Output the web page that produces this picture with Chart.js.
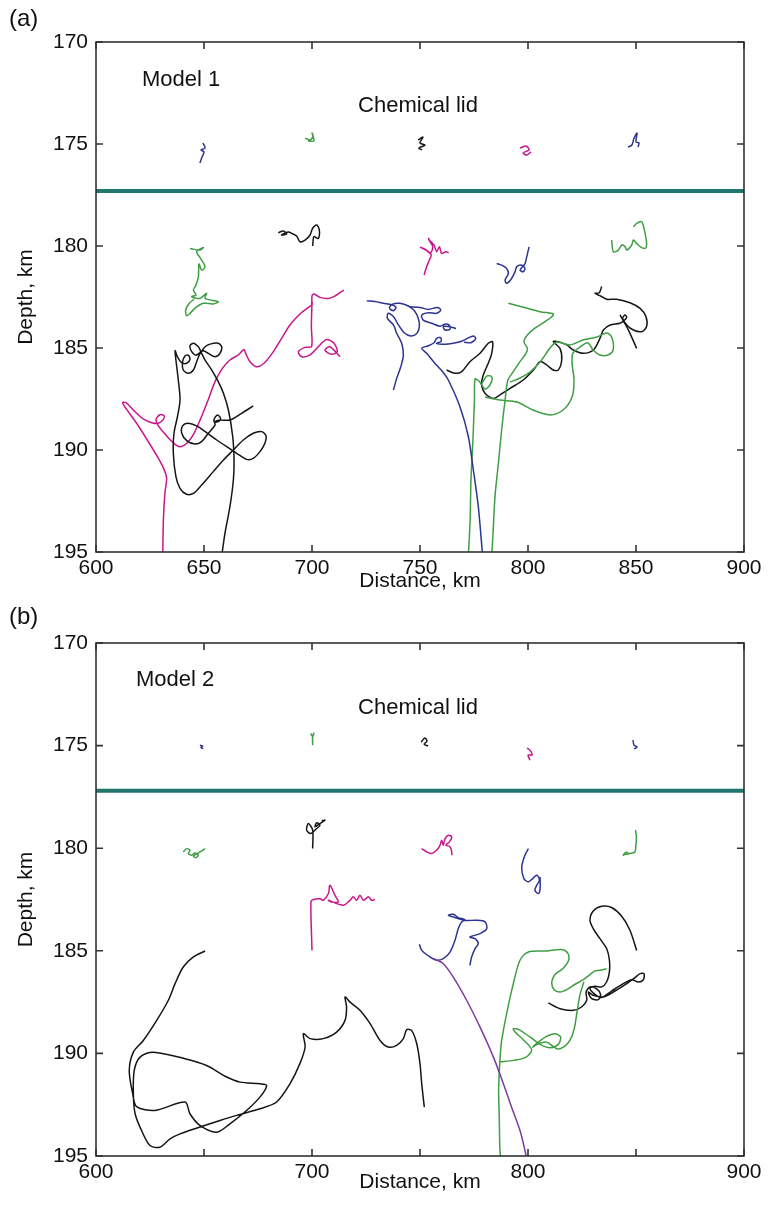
<!DOCTYPE html>
<html><head><meta charset="utf-8">
<script src="https://cdn.jsdelivr.net/npm/chart.js@4.4.1/dist/chart.umd.min.js"></script>
<style>
html,body{margin:0;padding:0;background:#fff;}
#wrap{position:relative;width:768px;height:1214px;overflow:hidden;}
canvas{position:absolute;left:0;}
</style></head><body>
<div id="wrap">
<canvas id="ca" width="768" height="600" style="top:0px"></canvas>
<canvas id="cb" width="768" height="614" style="top:600px"></canvas>
</div>
<script>
// ---------- axes ----------
const xTicks = [600, 650, 700, 750, 800, 850, 900];
const xTickLabelsA = ['600', '650', '700', '750', '800', '850', '900'];
const xTickLabelsB = ['600', '', '700', '', '800', '', '900'];
const yTicks = [170, 175, 180, 185, 190, 195];
const yTickLabels = ['170', '175', '180', '185', '190', '195'];
const lidDepthA = 177.3;
const lidDepthB = 177.2;

// ---------- Model 1 (panel a) trajectories: [distance km, depth km] ----------
const aBlue650Top = [[649.5,174.95],[650.5,175.20],[648.6,175.29],[650.0,175.39],[649.1,175.64],[648.1,175.93]];
const aGreen700Top = [[696.8,174.71],[699.1,174.80],[700.5,174.61],[700.0,174.46],[700.9,174.85],[698.1,174.85]];
const aBlack750Top = [[749.1,174.80],[751.4,174.66],[750.0,174.95],[752.3,175.05],[749.5,175.20],[750.9,175.29]];
const aMag800Top = [[796.3,175.20],[799.1,175.10],[800.5,175.29],[797.7,175.44],[799.5,175.54],[801.4,175.39]];
const aBlue850Top = [[846.3,175.15],[848.1,175.05],[849.1,174.71],[850.5,174.46],[850.0,174.90],[851.4,174.95],[850.9,175.15]];

const aGreen650 = [[643.5,180.12],[648.1,180.20],[649.7,180.07],[646.6,180.28],[648.1,180.56],[650.5,181.01],[648.9,181.18],[647.7,180.88],[647.4,181.50],[646.3,181.91],[645.1,182.16],[646.3,182.40],[644.3,182.48],[648.1,182.57],[651.2,182.32],[650.5,182.57],[656.6,182.73],[654.3,182.84],[649.7,182.81],[646.3,183.01],[643.5,183.30],[642.0,183.42],[641.5,183.14],[643.2,182.81],[645.4,182.61]];
const aBlack700 = [[684.4,179.35],[686.7,179.26],[688.3,179.41],[685.9,179.46],[689.0,179.31],[690.6,179.38],[692.9,179.51],[694.4,179.79],[696.8,179.71],[699.1,179.46],[700.3,179.13],[702.2,178.97],[703.4,179.22],[702.9,179.63],[700.9,179.54],[700.3,180.00]];
const aBlackLeft = [[658.2,195.2],[659.7,194.09],[662.0,192.78],[663.6,191.47],[663.9,190.49],[663.3,189.35],[661.3,188.04],[659.0,187.22],[656.6,186.65],[653.6,186.08],[650.5,185.59],[648.9,185.26],[648.2,185.10],[647.4,184.94],[645.1,184.77],[643.5,184.90],[644.3,185.18],[646.3,185.35],[648.6,185.18],[650.5,184.94],[652.8,184.81],[656.6,184.77],[658.2,184.94],[657.4,185.26],[655.1,185.43],[652.0,185.26],[649.7,185.13],[648.2,185.26],[646.6,185.67],[645.1,186.08],[642.7,186.24],[640.4,186.08],[640.1,185.67],[641.2,185.39],[642.7,185.35],[643.5,185.56],[642.0,185.75],[639.7,185.72],[637.7,185.43],[636.6,185.13],[637.0,185.59],[638.1,186.57],[638.9,187.55],[637.7,188.37],[636.1,189.18],[635.8,190.16],[637.0,191.31],[638.9,191.88],[641.7,192.16],[645.1,192.13],[648.9,191.72],[654.3,191.06],[659.0,190.49],[663.6,190.00],[668.2,189.51],[672.8,189.18],[676.7,189.10],[678.7,189.31],[678.2,189.67],[675.9,190.08],[672.8,190.41],[669.7,190.46],[665.1,190.16],[660.5,189.84],[655.9,189.51],[651.2,189.15],[646.6,188.82],[642.7,188.69],[640.1,188.82],[639.7,189.18],[642.0,189.54],[645.8,189.71],[648.9,189.59],[652.0,189.18],[655.1,188.77],[654.6,188.53],[656.2,188.28],[657.7,188.45],[656.6,188.61],[655.1,188.61],[657.4,188.53],[662.0,188.53],[667.4,188.20],[672.8,187.84]];
const aMagLeft = [[630.9,195.2],[631.2,193.43],[631.9,192.12],[632.7,191.39],[631.5,190.95],[628.9,190.41],[624.2,189.59],[618.8,188.69],[614.2,188.01],[612.3,187.68],[613.9,187.68],[617.3,188.04],[621.9,188.48],[625.8,188.66],[628.9,188.69],[631.2,188.50],[631.5,188.32],[629.6,188.27],[627.8,188.50],[628.9,188.82],[632.7,189.31],[636.6,189.72],[639.2,189.84],[642.3,189.64],[645.4,189.18],[648.5,188.45],[652.0,187.52],[655.1,186.65],[658.5,186.00],[662.0,185.59],[665.9,185.34],[668.5,185.07],[669.4,185.29],[671.3,185.67],[674.4,185.92],[677.8,185.75],[681.8,185.23],[685.9,184.53],[689.8,183.87],[694.4,183.33],[698.3,183.01],[699.8,182.89],[700.0,182.45],[700.9,182.35],[703.7,182.52],[707.6,182.57],[710.6,182.45],[712.9,182.29],[714.8,182.16]];
const aMagLeft2 = [[700.0,182.73],[699.7,183.95],[699.8,184.93],[696.8,184.97],[693.7,185.18],[695.2,185.43],[699.1,185.34],[703.7,184.85],[706.8,184.58],[710.2,184.77],[711.7,185.18],[709.1,185.31],[706.0,185.10],[708.3,184.94],[713.0,185.43]];
const aBlueTail = [[725.3,182.69],[729.2,182.72],[733.0,182.81],[736.9,182.88],[738.9,183.00],[737.7,183.17],[735.8,183.04],[737.3,182.85],[740.7,182.81],[744.6,182.94],[747.4,183.17],[749.2,183.54],[749.7,183.95],[748.5,184.29],[745.7,184.41],[742.7,184.25],[740.0,183.87],[737.7,183.46],[735.3,183.30],[734.9,183.55],[737.7,183.87],[739.2,184.28],[741.5,184.77],[742.3,185.35],[741.1,185.92],[739.2,186.49],[737.7,187.06]];
const aBlueMid = [[745.4,182.98],[750.0,183.01],[753.9,183.11],[758.0,183.01],[759.6,183.14],[757.7,183.30],[753.9,183.27],[750.8,183.39],[751.5,183.63],[755.4,183.79],[759.3,183.93],[761.6,183.83],[763.6,183.89],[763.9,184.08],[761.6,184.12],[760.8,183.95],[763.1,183.95],[766.7,184.04]];
const aBlueLong = [[779.0,195.2],[777.0,192.78],[774.7,190.98],[772.4,189.35],[768.5,187.88],[763.1,186.57],[760.6,186.18],[756.9,185.75],[753.1,185.26],[750.8,185.01],[753.9,184.89],[756.5,184.74],[757.7,184.53],[759.6,184.49],[759.7,184.69],[757.7,184.77],[761.6,184.82],[765.4,184.77],[769.3,184.67],[771.9,184.53],[774.7,184.41],[775.8,184.53],[773.6,184.74],[770.4,184.72]];
const aMag750 = [[751.9,181.42],[752.8,181.10],[754.3,180.69],[755.2,180.44],[753.1,180.23],[750.3,180.07],[752.3,180.16],[754.9,180.33],[755.9,180.04],[754.6,179.79],[753.9,179.63],[754.6,179.74],[756.5,179.96],[757.7,180.28],[759.0,180.04],[760.0,180.36],[762.0,180.28],[763.3,180.33]];
const aBlue800 = [[785.5,180.86],[787.8,180.94],[790.1,181.10],[790.9,181.35],[789.4,181.67],[790.1,181.83],[792.4,181.59],[794.0,181.26],[794.8,181.01],[797.1,180.94],[798.6,181.10],[797.8,181.26],[796.3,181.18],[798.6,180.86],[799.4,180.53],[800.5,180.04]];
const aGreen850 = [[838.7,179.71],[839.5,180.28],[841.8,180.20],[843.4,179.95],[844.9,180.03],[845.7,180.20],[848.0,179.95],[848.8,179.71],[850.3,179.87],[851.9,180.03],[854.2,180.12],[854.9,179.87],[853.7,179.14],[852.6,178.81],[850.3,178.89],[848.8,179.06]];
const aBlackRight = [[762.3,186.08],[766.2,186.24],[769.3,186.16],[773.1,185.67],[777.8,185.26],[781.6,184.77],[783.6,184.69],[783.2,185.26],[781.6,185.75],[779.3,186.32],[778.5,186.81],[780.1,187.22],[784.0,187.47],[787.0,187.30],[791.7,186.98],[797.8,186.57],[802.5,186.08],[805.6,185.67],[808.6,185.83],[811.7,186.08],[814.0,186.08],[815.6,185.59],[814.8,185.02],[811.7,184.69],[814.0,184.69],[817.9,184.85],[821.0,185.10],[825.6,185.26],[830.3,185.10],[833.3,184.53],[834.9,184.12],[838.0,183.87],[842.6,183.79],[844.4,183.66],[845.7,183.50],[844.9,183.38],[843.8,183.55],[845.7,183.87],[848.8,184.12],[852.6,184.20],[854.9,183.95],[854.6,183.46],[851.9,183.06],[847.2,182.78],[841.0,182.61],[836.4,182.61],[833.6,182.45],[831.0,182.32],[833.0,182.29],[834.1,181.99]];
const aBlackRight2 = [[842.6,183.38],[846.5,184.12],[850.3,185.02]];
const aGreenLeft = [[778.7,186.72],[781.0,186.37],[783.3,186.42],[782.4,186.81],[780.1,187.01],[777.3,186.62],[775.5,186.52],[775.2,187.55],[774.5,189.51],[773.6,191.47],[773.2,193.43],[772.4,195.2]];
const aGreenRight = [[790.9,182.81],[797.8,183.00],[805.6,183.22],[811.7,183.33],[811.0,183.47],[807.9,183.71],[803.2,184.03],[799.7,184.36],[798.1,184.69],[799.7,185.01],[799.1,185.26],[796.3,185.67],[793.2,186.16],[790.7,186.57],[789.4,187.55],[787.8,189.02],[786.3,190.64],[784.7,192.30],[783.9,193.92],[783.2,195.2]];
const aGreenLoop = [[780.1,187.40],[787.0,187.55],[794.9,187.65],[802.3,188.04],[810.2,188.28],[816.2,188.04],[820.4,187.40],[821.3,186.57],[820.4,185.74],[820.8,185.25],[824.1,184.95],[827.8,184.75],[830.1,185.10],[833.3,185.34],[837.0,185.34],[839.4,185.10],[838.9,184.51],[836.6,184.26],[831.9,184.46],[825.5,184.61],[819.4,184.85],[813.4,184.71],[810.2,185.00],[805.6,185.69],[800.9,186.18],[796.3,186.47],[791.7,186.67]];

// ---------- Model 2 (panel b) trajectories ----------
const bBlue650Top = [[648.1,174.98],[649.4,175.02],[648.6,175.09],[649.7,175.14]];
const bGreen700Top = [[699.4,174.41],[700.3,174.57],[700.9,174.37],[700.3,174.57],[700.3,174.98]];
const bBlack750Top = [[750.5,174.83],[752.3,174.63],[753.2,174.78],[751.9,174.93],[753.7,175.02]];
const bMag800Top = [[799.5,175.12],[800.9,175.22],[801.9,175.46],[800.0,175.46],[800.9,175.71]];
const bBlue850Top = [[848.6,174.73],[849.1,174.98],[850.5,175.07],[849.1,175.17]];

const bGreen650 = [[640.4,180.18],[642.0,180.02],[643.5,180.10],[642.7,180.26],[644.3,180.34],[645.8,180.23],[647.4,180.34],[646.3,180.46],[645.1,180.39],[647.4,180.23],[650.5,180.02]];
const bBlack700 = [[700.3,180.02],[700.3,179.12],[698.3,178.80],[697.5,179.12],[699.4,179.28],[702.2,179.04],[703.7,178.88],[702.2,178.76],[701.4,178.96],[703.7,178.80],[706.0,178.63],[704.5,178.67]];
const bMag700 = [[700.0,184.98],[699.5,182.60],[700.6,182.50],[703.7,182.46],[705.2,182.54],[707.6,182.21],[708.3,181.81],[710.6,182.29],[712.2,182.62],[709.1,182.62],[707.6,182.54],[714.5,182.78],[717.6,182.54],[719.1,182.37],[720.7,182.54],[722.2,182.29],[723.8,182.54],[726.1,182.37],[727.6,182.54],[729.2,182.50]];
const bMag750 = [[750.8,180.02],[753.1,180.18],[755.4,180.26],[757.7,180.10],[759.3,179.85],[760.0,179.61],[760.8,179.85],[761.6,179.53],[763.1,179.37],[764.7,179.45],[763.6,179.69],[762.0,179.85],[763.9,179.93],[764.7,180.18],[764.7,180.34]];
const bBlue800 = [[800.2,180.02],[798.6,180.34],[797.1,180.91],[798.1,181.48],[800.2,181.64],[802.2,181.48],[803.2,181.37],[804.3,181.32],[805.3,181.56],[804.0,181.81],[803.2,182.05],[804.8,182.21],[805.6,181.97],[805.6,181.40]];
const bGreen850 = [[849.8,179.12],[850.2,179.50],[849.9,179.90],[849.5,180.18],[847.0,180.26],[845.0,180.30],[844.1,180.34],[845.5,180.20],[847.0,180.30]];
const bBlueMid = [[749.7,184.68],[750.8,184.98],[754.6,185.30],[757.7,185.46],[760.8,185.38],[763.9,185.06],[766.2,184.49],[767.7,183.92],[769.3,183.59],[770.8,183.48],[767.7,183.38],[765.4,183.22],[763.1,183.27],[765.4,183.35],[770.8,183.52],[776.2,183.51],[780.1,183.59],[780.9,183.92],[777.8,184.16],[773.1,184.33],[775.5,184.41],[777.0,184.65],[775.5,184.89],[773.9,185.30],[773.1,185.71]];
const bPurple = [[756.2,185.38],[760.8,185.63],[765.4,186.28],[771.6,187.41],[777.8,188.72],[784.0,190.18],[788.6,191.48],[792.4,192.62],[796.3,193.76],[798.6,194.73],[799.5,195.2]];
const bBlackBig = [[650.5,185.01],[645.1,185.30],[640.4,185.79],[636.6,186.60],[633.5,187.41],[628.1,188.39],[621.9,189.37],[617.3,189.94],[615.4,190.83],[617.0,191.97],[618.8,192.59],[627.3,192.78],[641.2,192.37],[643.5,192.94],[648.1,193.51],[655.9,193.84],[662.0,193.43],[669.7,192.78],[675.9,192.13],[679.0,191.56],[675.9,191.48],[666.7,191.40],[660.5,191.15],[651.2,190.59],[641.2,190.26],[626.5,189.94],[620.4,190.18],[617.7,190.83],[617.3,191.97],[618.1,192.94],[621.1,193.76],[625.0,194.49],[629.6,194.57],[634.3,194.16],[638.9,193.92],[648.1,193.59],[657.4,193.27],[665.1,193.02],[675.9,192.70],[683.6,192.37],[689.8,191.48],[694.4,190.50],[696.8,189.69],[696.0,189.04],[699.1,189.28],[705.2,189.28],[711.4,188.96],[715.3,188.39],[716.0,187.74],[715.3,187.25],[717.6,187.50],[722.2,187.90],[726.9,188.55],[731.5,189.37],[735.3,189.69],[739.2,189.61],[742.3,189.28],[743.8,188.85],[746.1,188.88],[748.5,189.53],[750.0,190.50],[750.8,191.48],[752.0,192.62]];
const bGreen1 = [[787.5,195.2],[787.0,194.73],[786.7,193.11],[786.4,191.81],[787.0,190.34],[787.8,189.37],[790.1,188.07],[793.2,186.60],[796.3,185.46],[800.2,185.06],[808.6,185.01],[815.6,184.94],[818.4,185.11],[818.8,185.46],[816.1,185.87],[812.5,186.15],[811.0,186.52],[812.0,186.89],[814.8,187.01],[818.2,186.88],[821.8,186.63],[825.6,186.41],[828.7,186.16],[831.0,185.98],[833.3,185.95],[836.4,185.87]];
const bGreen2 = [[787.0,190.42],[793.2,190.34],[799.1,190.18],[801.7,189.82],[797.8,189.33],[794.0,188.96],[793.2,188.80],[796.0,188.85],[800.9,189.20],[805.6,189.56],[810.2,189.72],[814.0,189.56],[815.1,189.20],[812.5,189.04],[808.6,189.17],[804.8,189.45],[802.2,189.69],[804.8,189.53],[808.6,189.45],[813.3,189.77],[816.4,189.69],[819.4,189.37],[821.4,188.80],[822.8,187.90],[824.1,187.12],[825.9,186.51]];
const bBlackRight = [[809.4,187.54],[814.8,187.82],[821.0,187.90],[824.8,187.74],[827.2,187.41],[826.9,187.01],[828.7,186.76],[831.8,186.85],[833.6,187.12],[832.6,187.38],[829.5,187.33],[827.9,187.01],[830.2,187.17],[834.9,187.25],[840.3,186.96],[845.7,186.60],[849.5,186.31],[851.9,186.11],[853.7,186.11],[853.4,186.41],[851.1,186.52],[848.0,186.41],[844.1,186.60],[838.7,186.96],[834.1,187.28],[831.0,187.12],[828.7,186.84],[831.0,186.73],[834.1,186.76],[836.4,186.52],[837.7,186.03],[837.7,185.46],[836.4,184.89],[833.3,184.41],[830.2,183.92],[828.7,183.51],[830.2,183.06],[834.1,182.83],[838.7,182.89],[843.4,183.32],[847.2,184.00],[850.3,184.98]];

// ---------- styles ----------
const C = {blue:'#2d3590', green:'#3f9e44', black:'#151515', mag:'#c8178c', purple:'#7b3c9c', lid:'#1f776d'};
const FONT = "'Liberation Sans', Arial, Helvetica, sans-serif";

function ds(arr, color, w) {
  return {data: arr.map(p => ({x: p[0], y: p[1]})), borderColor: color, borderWidth: w || 1.5,
          showLine: true, pointRadius: 0, fill: false, tension: 0.3};
}

const framePlugin = {
  id: 'frame',
  afterDraw(chart, args, opts) {
    const {ctx, chartArea: a, scales: {x, y}} = chart;
    ctx.save();
    ctx.strokeStyle = '#333'; ctx.lineWidth = 1.6;
    ctx.strokeRect(a.left, a.top, a.right - a.left, a.bottom - a.top);
    const L = 7;
    ctx.beginPath();
    xTicks.forEach(v => { const p = x.getPixelForValue(v);
      ctx.moveTo(p, a.bottom); ctx.lineTo(p, a.bottom - L); ctx.moveTo(p, a.top); ctx.lineTo(p, a.top + L); });
    yTicks.forEach(v => { const p = y.getPixelForValue(v);
      ctx.moveTo(a.left, p); ctx.lineTo(a.left + L, p); ctx.moveTo(a.right, p); ctx.lineTo(a.right - L, p); });
    ctx.stroke();
    ctx.fillStyle = '#111'; ctx.textBaseline = 'middle';
    (opts.texts || []).forEach(t => {
      ctx.font = t.size + 'px ' + FONT; ctx.textAlign = t.align;
      ctx.fillText(t.text, t.x, t.y);
    });
    ctx.restore();
  }
};

function makeChart(id, datasets, xLabels, lid, padTop, xAxisH, titlePadB, texts) {
  datasets.unshift(ds([[600, lid], [900, lid]], C.lid, 4));
  const tickFont = {family: FONT, size: 21};
  return new Chart(document.getElementById(id), {
    type: 'scatter',
    data: {datasets},
    options: {
      responsive: false, animation: false, events: [],
      layout: {padding: {top: padTop, right: 24, left: 0, bottom: 0}},
      plugins: {legend: {display: false}, tooltip: {enabled: false}, frame: {texts}},
      scales: {
        x: {type: 'linear', min: 600, max: 900,
            afterBuildTicks: s => { s.ticks = xTicks.map(v => ({value: v})); },
            afterFit: s => { s.height = xAxisH; },
            ticks: {autoSkip: false, maxRotation: 0, padding: 4, color: '#111', font: tickFont,
                    callback: v => xLabels[xTicks.indexOf(v)]},
            grid: {display: false, drawTicks: false}, border: {display: false},
            title: {display: true, text: 'Distance, km', color: '#111', font: tickFont, padding: {top: 0, bottom: titlePadB}}},
        y: {type: 'linear', min: 170, max: 195, reverse: true,
            afterBuildTicks: s => { s.ticks = yTicks.map(v => ({value: v})); },
            afterFit: s => { s.width = 96; },
            ticks: {autoSkip: false, padding: 8, color: '#111', font: tickFont,
                    callback: v => yTickLabels[yTicks.indexOf(v)]},
            grid: {display: false, drawTicks: false}, border: {display: false},
            title: {display: true, text: 'Depth, km', color: '#111', font: tickFont, padding: {top: 14, bottom: 0}}}
      }
    },
    plugins: [framePlugin]
  });
}

makeChart('ca', [
  ds(aBlue650Top, C.blue), ds(aGreen700Top, C.green), ds(aBlack750Top, C.black), ds(aMag800Top, C.mag), ds(aBlue850Top, C.blue),
  ds(aGreen650, C.green), ds(aBlack700, C.black), ds(aBlackLeft, C.black), ds(aMagLeft, C.mag), ds(aMagLeft2, C.mag),
  ds(aBlueTail, C.blue), ds(aBlueMid, C.blue), ds(aBlueLong, C.blue), ds(aMag750, C.mag), ds(aBlue800, C.blue),
  ds(aGreen850, C.green), ds(aGreenLeft, C.green), ds(aGreenRight, C.green), ds(aGreenLoop, C.green),
  ds(aBlackRight, C.black), ds(aBlackRight2, C.black)
], xTickLabelsA, lidDepthA, 42, 48, 6, [
  {text: '(a)', x: 9, y: 19, size: 24, align: 'left'},
  {text: 'Model 1', x: 142, y: 80, size: 22, align: 'left'},
  {text: 'Chemical lid', x: 418, y: 106, size: 22, align: 'center'}
]);

makeChart('cb', [
  ds(bBlue650Top, C.blue), ds(bGreen700Top, C.green), ds(bBlack750Top, C.black), ds(bMag800Top, C.mag), ds(bBlue850Top, C.blue),
  ds(bGreen650, C.green), ds(bBlack700, C.black), ds(bMag700, C.mag), ds(bMag750, C.mag), ds(bBlue800, C.blue),
  ds(bGreen850, C.green), ds(bPurple, C.purple), ds(bBlueMid, C.blue), ds(bBlackBig, C.black),
  ds(bGreen1, C.green), ds(bGreen2, C.green), ds(bBlackRight, C.black)
], xTickLabelsB, lidDepthB, 43, 58, 19, [
  {text: '(b)', x: 9, y: 17, size: 24, align: 'left'},
  {text: 'Model 2', x: 136, y: 80, size: 22, align: 'left'},
  {text: 'Chemical lid', x: 418, y: 108, size: 22, align: 'center'}
]);
</script>
</body></html>
